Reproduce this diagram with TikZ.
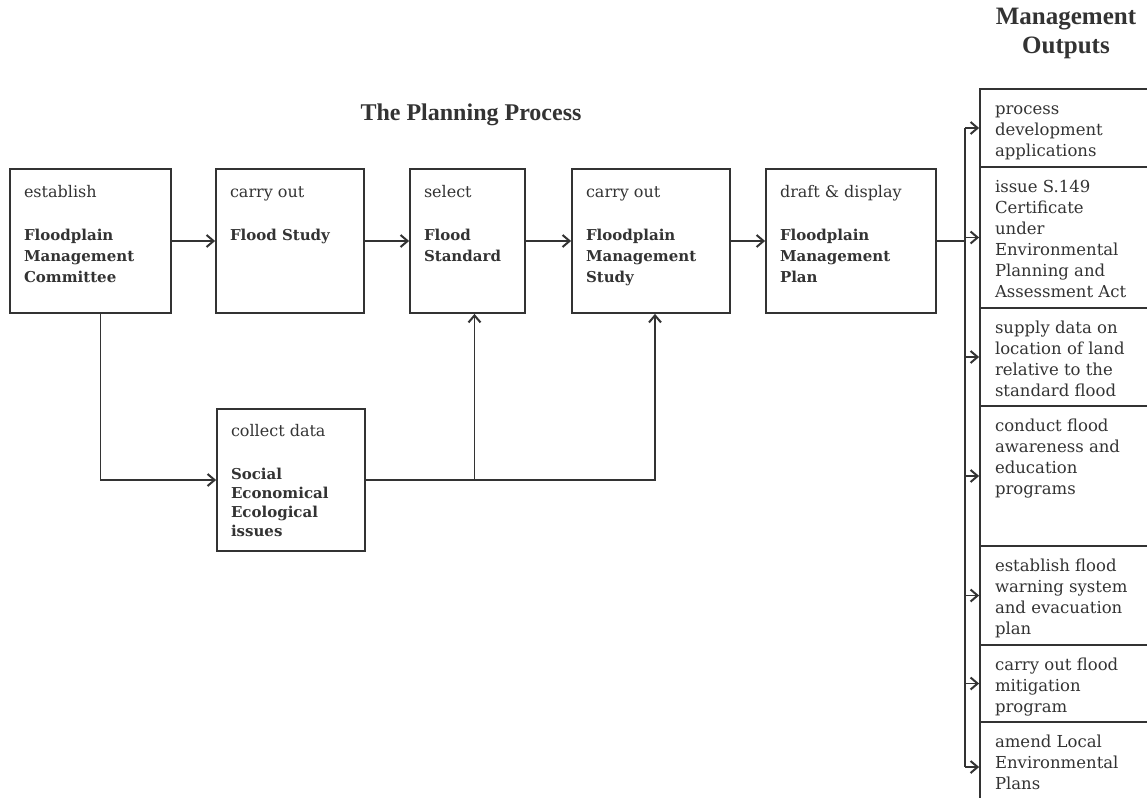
\documentclass[tikz,border=0pt]{standalone}
\usepackage{fontspec}
\setmainfont{DejaVu Serif}
\newfontfamily\headfont{Liberation Serif}
\usetikzlibrary{arrows.meta}

\definecolor{ink}{gray}{0.2}
\newcommand{\celltext}[3]{\parbox[c][#1][t]{#2}{\raggedright\strut #3}} % height, width, text
\newcommand{\term}[1]{{\bfseries\fontsize{15}{21}\selectfont #1}}

\tikzset{
  stage/.style = {draw=ink, text=ink, line width=1.8pt, inner xsep=14pt, inner ysep=14pt, font=\fontsize{16}{21}\selectfont},
  output/.style = {draw=ink, text=ink, line width=1.8pt, inner xsep=15pt, inner ysep=11pt, font=\fontsize{16.5}{21}\selectfont},
  flow/.style = {draw=ink, line width=1.8pt, -{Straight Barb[length=7pt,width=12pt,line width=2pt]}},
  link/.style = {draw=ink, line width=1.8pt}
}

\begin{document}
\begin{tikzpicture}[x=1pt, y=-1pt]
\useasboundingbox (0,0) rectangle (1147,797);
\clip (0,0) rectangle (1147,797);

% headings
\node[text=ink, font=\headfont\bfseries\fontsize{24}{28}\selectfont, anchor=base] (title) at (471,121) {The Planning Process};
\node[text=ink, font=\headfont\bfseries\fontsize{25}{29}\selectfont, align=center, anchor=north, inner sep=0pt] (outhead) at (1066,8) {Management\\Outputs};

% the planning process
\node[stage] (b1) at (90.5,241) {\celltext{116pt}{133pt}{establish\\[22pt]\term{Floodplain\\Management\\Committee}}};
\node[stage] (b2) at (290,241) {\celltext{116pt}{120pt}{carry out\\[22pt]\term{Flood Study}}};
\node[stage] (b3) at (467.5,241) {\celltext{116pt}{87pt}{select\\[22pt]\term{Flood\\Standard}}};
\node[stage] (b4) at (651,241) {\celltext{116pt}{130pt}{carry out\\[22pt]\term{Floodplain\\Management\\Study}}};
\node[stage] (b5) at (851,241) {\celltext{116pt}{142pt}{draft \& display\\[22pt]\term{Floodplain\\Management\\Plan}}};
\node[stage, font=\fontsize{16}{19}\selectfont] (b6) at (291,480) {\celltext{114pt}{120pt}{collect data\\[24pt]{\bfseries\fontsize{15}{19}\selectfont Social\\Economical\\Ecological\\issues}}};

% management outputs
\node[output] (o1) at (1080,128) {\celltext{56pt}{170pt}{process\\development\\applications}};
\node[output] (o2) at (1080,237.5) {\celltext{119pt}{170pt}{issue S.149\\Certificate\\under\\Environmental\\Planning and\\Assessment Act}};
\node[output] (o3) at (1080,357) {\celltext{76pt}{170pt}{supply data on\\location of land\\relative to the\\standard flood}};
\node[output] (o4) at (1080,476) {\celltext{118pt}{170pt}{conduct flood\\awareness and\\education\\programs}};
\node[output] (o5) at (1080,595.5) {\celltext{77pt}{170pt}{establish flood\\warning system\\and evacuation\\plan}};
\node[output] (o6) at (1080,683.5) {\celltext{55pt}{170pt}{carry out flood\\mitigation\\program}};
\node[output] (o7) at (1080,767) {\celltext{68pt}{170pt}{amend Local\\Environmental\\Plans}};

% connectors
\draw[flow] (b1) -- (b2);
\draw[flow] (b2) -- (b3);
\draw[flow] (b3) -- (b4);
\draw[flow] (b4) -- (b5);
\draw[flow] ([xshift=10pt]b1.south) |- (b6.west);
\draw[flow] (b6.east) -| ([xshift=4pt]b4.south);
\draw[flow] ([xshift=7pt]b3.south |- b6.east) -- ([xshift=7pt]b3.south);

\coordinate (trunk) at (965,128);
\draw[link] (b5.east) -- (b5.east -| trunk);
\draw[link] (trunk |- o1.west) -- (trunk |- o7.west);
\foreach \i in {1,...,7}
  \draw[flow] (trunk |- o\i.west) -- (o\i.west);
\end{tikzpicture}
\end{document}
